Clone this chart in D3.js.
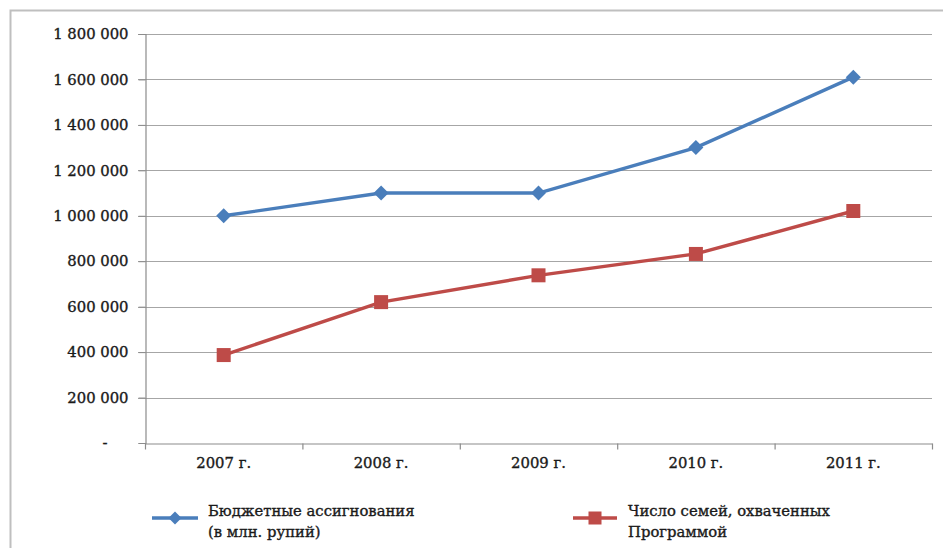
<!DOCTYPE html>
<html><head><meta charset="utf-8">
<script src="https://cdn.jsdelivr.net/npm/d3@7"></script>
<style>
body{margin:0;background:#fff;}
svg{display:block;}
text{font-family:"DejaVu Serif","Liberation Serif",serif;fill:#1a1a1a;stroke:#1a1a1a;stroke-width:0.35px;}
</style></head>
<body>
<svg id="c" width="943" height="548"></svg>
<script>
const categories = ["2007 г.","2008 г.","2009 г.","2010 г.","2011 г."];
const budget = [1000000,1100000,1100000,1300000,1610000];
const families = [387000,620000,738000,832000,1021000];
const yTicks = [0,200000,400000,600000,800000,1000000,1200000,1400000,1600000,1800000];
const seriesNames = [["Бюджетные ассигнования","(в млн. рупий)"],["Число семей, охваченных","Программой"]];

const svg = d3.select("#c");
const blue = "#4a7ebb", red = "#be4b48";
const L = 145, R = 932, T = 34, B = 443;
const FS = 14.8;

svg.append("rect").attr("x",10.5).attr("y",10.5).attr("width",960).attr("height",560)
  .attr("fill","none").attr("stroke","#bfbfbf").attr("stroke-width",2);

const x = d3.scaleBand().domain(categories).range([L,R]);
const y = d3.scaleLinear().domain([0,1800000]).range([B,T]);

const fmt = v => v===0 ? "-" : d3.format(",")(v).replace(/,/g," ");

// gridlines
svg.append("g").selectAll("line").data(yTicks.filter(d=>d>0)).join("line")
  .attr("x1",L-7).attr("x2",R).attr("y1",d=>Math.round(y(d))+0.5).attr("y2",d=>Math.round(y(d))+0.5)
  .attr("stroke","#a6a6a6").attr("stroke-width",1.2);

// y axis
const ya = svg.append("g").attr("transform",`translate(${L+0.5},0)`)
  .call(d3.axisLeft(y).tickValues(yTicks).tickFormat(fmt).tickSize(7).tickPadding(10));
ya.select(".domain").attr("stroke","#8c8c8c").attr("stroke-width",1.2);
ya.selectAll(".tick line").attr("stroke","#8c8c8c");
ya.selectAll("text").attr("font-size",FS).attr("fill","#1a1a1a").attr("font-family",null)
  .attr("dx",d=>d===0?-21:0);

// x axis
const xa = svg.append("g").attr("transform",`translate(0,${B+0.5})`)
  .call(d3.axisBottom(x).tickSize(0).tickPadding(14));
xa.select(".domain").attr("stroke","#8c8c8c").attr("stroke-width",1.2);
xa.selectAll("text").attr("font-size",FS).attr("fill","#1a1a1a").attr("font-family",null);
const bounds = categories.map(c=>x(c)).concat([R]);
xa.selectAll(".bt").data(bounds).join("line").attr("class","bt")
  .attr("x1",d=>d+0.5).attr("x2",d=>d+0.5).attr("y1",0).attr("y2",6)
  .attr("stroke","#8c8c8c").attr("stroke-width",1.2);
svg.selectAll("g").attr("font-family",null);

const cx = c => x(c)+x.bandwidth()/2;
const line = d3.line().x((d,i)=>cx(categories[i])).y(d=>y(d));

svg.append("path").datum(budget).attr("d",line).attr("fill","none").attr("stroke",blue).attr("stroke-width",3.4);
svg.append("path").datum(families).attr("d",line).attr("fill","none").attr("stroke",red).attr("stroke-width",3.4);

const D = 7.5;
const diamondPath = `M0,${-D}L${D},0L0,${D}L${-D},0Z`;
svg.append("g").selectAll("path").data(budget).join("path")
  .attr("transform",(d,i)=>`translate(${cx(categories[i])},${y(d)})`)
  .attr("d",diamondPath).attr("fill",blue);
svg.append("g").selectAll("rect").data(families).join("rect")
  .attr("x",(d,i)=>cx(categories[i])-7).attr("y",d=>y(d)-7).attr("width",14).attr("height",14)
  .attr("fill",red);

// legend
const leg = [{x1:152,x2:198,tx:208,c:blue,t:"d"},{x1:573,x2:617,tx:628,c:red,t:"s"}];
leg.forEach((l,i)=>{
  const g = svg.append("g");
  const ly = 518;
  g.append("line").attr("x1",l.x1).attr("x2",l.x2).attr("y1",ly).attr("y2",ly).attr("stroke",l.c).attr("stroke-width",3.5);
  const mx=(l.x1+l.x2)/2;
  if(l.t==="d") g.append("path").attr("transform",`translate(${mx},${ly})`).attr("d",`M0,-6.5L6.5,0L0,6.5L-6.5,0Z`).attr("fill",l.c);
  else g.append("rect").attr("x",mx-6.5).attr("y",ly-6.5).attr("width",13).attr("height",13).attr("fill",l.c);
  const t = g.append("text").attr("x",l.tx).attr("y",516).attr("font-size",FS);
  seriesNames[i].forEach((s,j)=>t.append("tspan").attr("x",l.tx).attr("dy",j?21:0).text(s));
});
</script>
</body></html>
